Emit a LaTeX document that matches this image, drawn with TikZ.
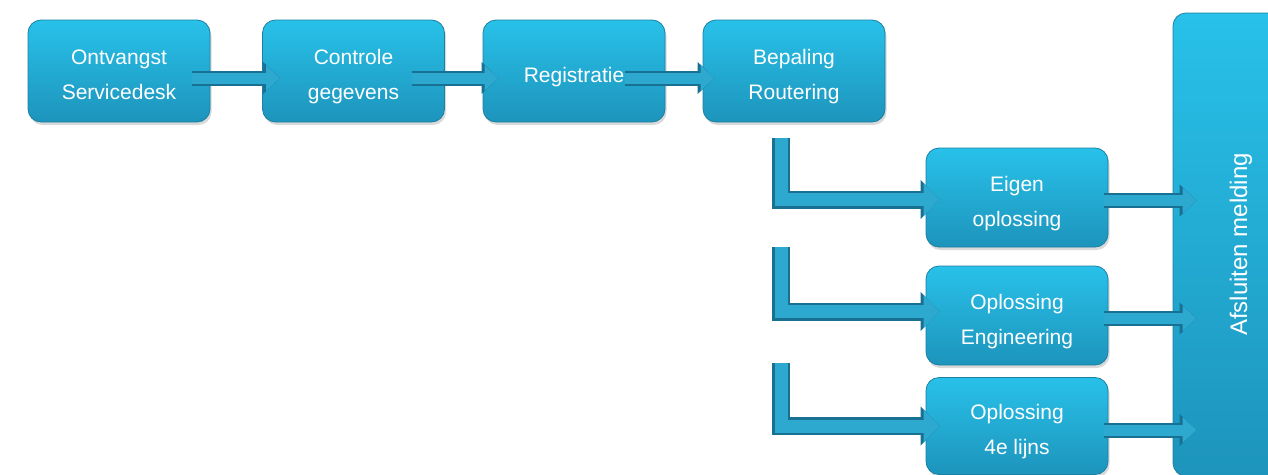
\documentclass[tikz,border=0pt]{standalone}
\usepackage{fontspec}
\setmainfont{Liberation Sans}
\usepackage{graphicx}
\usetikzlibrary{arrows.meta,shadows}

\definecolor{boxtop}{RGB}{40,193,233}
\definecolor{boxbot}{RGB}{29,148,188}
\definecolor{boxedge}{RGB}{27,128,163}
\definecolor{pijl}{RGB}{45,168,207}
\definecolor{pijlrand}{RGB}{24,112,146}

% 两行文字，稍微下移
\newcommand\staptekst[1]{\raisebox{-2pt}[\dimexpr\height+2pt][\dimexpr\depth-2pt]{\begin{tabular}{@{}c@{}}#1\end{tabular}}}

\begin{document}
\begin{tikzpicture}[x=1pt,y=-1pt,
  stap/.style={rounded corners=13pt, top color=boxtop, bottom color=boxbot,
    draw=boxedge, line width=0.8pt, text=white,
    font=\fontsize{21}{35}\selectfont, inner sep=0pt,
    minimum width=182pt, minimum height=102pt,
    drop shadow={opacity=0.3, shadow xshift=1.5pt, shadow yshift=-3pt}},
  pijlrecht/.style={preaction={draw=pijlrand, line width=15pt, -{Triangle[length=17pt,width=31pt]}},
    draw=pijl, line width=11pt, -{Triangle[length=14pt,width=25pt]}},
  pijlhoek/.style={preaction={draw=pijlrand, line width=18pt, line join=miter, -{Triangle[length=19pt,width=38pt]}},
    draw=pijl, line width=13pt, line join=miter, -{Triangle[length=16pt,width=32pt]}}]

\clip (0,0) rectangle (1268,474);
\useasboundingbox (0,0) rectangle (1268,474);

% 上排步骤
\node[stap] (ontvangst) at (119,71) {\staptekst{Ontvangst\\Servicedesk}};
\node[stap] (controle) at (353.5,71) {\staptekst{Controle\\gegevens}};
\node[stap] (registratie) at (574,71) {\staptekst{Registratie}};
\node[stap] (routering) at (794,71) {\staptekst{Bepaling\\Routering}};

% 中间三个解决方案
\node[stap, minimum height=99pt] (eigen) at (1017,197.5) {\staptekst{Eigen\\oplossing}};
\node[stap, minimum height=99pt] (engineering) at (1017,315.5) {\staptekst{Oplossing\\Engineering}};
\node[stap, minimum height=97pt] (lijns) at (1017,426) {\staptekst{Oplossing\\4e lijns}};

% 右侧竖框
\node[stap, minimum width=136pt, minimum height=463pt] (afsluiten) at (1241,244.5)
  {\fontsize{24}{28}\selectfont\rotatebox{90}{Afsluiten melding}};

% 上排箭头
\draw[pijlrecht] ([xshift=-18pt,yshift=-7pt]ontvangst.east) -- ([xshift=18pt,yshift=-7pt]controle.west);
\draw[pijlrecht] ([xshift=-33pt,yshift=-7pt]controle.east) -- ([xshift=16pt,yshift=-7pt]registratie.west);
\draw[pijlrecht] ([xshift=-40pt,yshift=-7pt]registratie.east) -- ([xshift=12pt,yshift=-7pt]routering.west);

% 折线箭头的起点
\coordinate (hoek1) at (781,138);
\coordinate (hoek2) at (781,247);
\coordinate (hoek3) at (781,363);

\draw[pijlhoek] (hoek1) |- ([xshift=14pt,yshift=-2pt]eigen.west);
\draw[pijlhoek] (hoek2) |- ([xshift=14pt,yshift=4pt]engineering.west);
\draw[pijlhoek] (hoek3) |- ([xshift=14pt]lijns.west);

% 右侧箭头
\draw[pijlrecht] ([xshift=-4pt,yshift=-3pt]eigen.east) -- ([xshift=24pt,yshift=-3pt]eigen.east -| afsluiten.west);
\draw[pijlrecht] ([xshift=-4pt,yshift=-3pt]engineering.east) -- ([xshift=24pt,yshift=-3pt]engineering.east -| afsluiten.west);
\draw[pijlrecht] ([xshift=-4pt,yshift=-4pt]lijns.east) -- ([xshift=24pt,yshift=-4pt]lijns.east -| afsluiten.west);

\end{tikzpicture}
\end{document}
